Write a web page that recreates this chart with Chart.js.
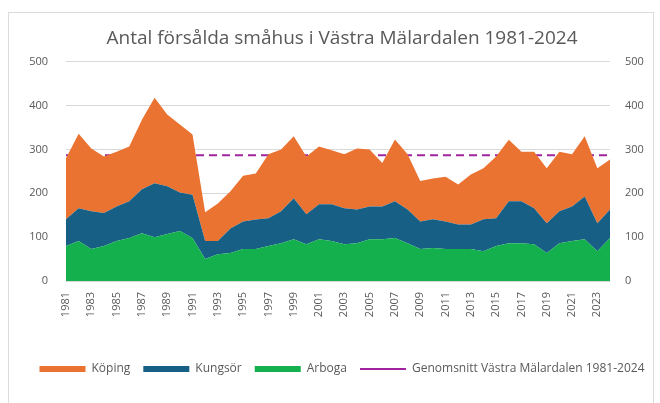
<!DOCTYPE html>
<html>
<head>
<meta charset="utf-8">
<script src="https://cdn.jsdelivr.net/npm/chart.js@4/dist/chart.umd.min.js"></script>
<style>
  html, body { margin: 0; padding: 0; background: #fff; }
  #ram { position: absolute; left: 8px; top: 12px; width: 644px; height: 400px; border: 1px solid #dcdcdc; }
  #wrap { position: absolute; left: 0; top: 0; width: 660px; height: 403px; }
</style>
</head>
<body>
<div id="ram"></div>
<div id="wrap"><canvas id="graf" width="660" height="403"></canvas></div>
<script>
const ar = ['1981','1982','1983','1984','1985','1986','1987','1988','1989','1990',
  '1991','1992','1993','1994','1995','1996','1997','1998','1999','2000',
  '2001','2002','2003','2004','2005','2006','2007','2008','2009','2010',
  '2011','2012','2013','2014','2015','2016','2017','2018','2019','2020',
  '2021','2022','2023','2024'];

const arboga = [80,91,73,80,91,98,109,100,107,114,
  98,50,61,64,73,73,80,86,95,84,
  95,91,84,86,95,95,98,86,73,75,
  73,73,73,68,80,86,86,84,64,86,
  91,95,68,98];

const kungsor = [61,75,86,75,79,84,100,123,109,88,
  99,41,30,56,63,67,63,73,94,68,
  80,84,82,77,75,75,84,77,63,66,
  63,56,56,73,63,96,96,82,68,73,
  79,98,64,65];

const koping = [139,170,143,129,125,125,159,195,164,155,
  137,66,86,85,104,105,146,141,141,132,
  132,123,123,139,130,99,141,126,92,93,
  102,91,114,116,141,140,113,129,125,136,
  119,137,125,114];

// genomsnitt för hela perioden, ritas som streckad linje
const genomsnitt = 287;
const snittLinje = ar.map(() => genomsnitt);

const legendOrdning = ['Köping', 'Kungsör', 'Arboga', 'Genomsnitt Västra Mälardalen 1981-2024'];

const grå = '#595959';
const font = "'Open Sans', 'Liberation Sans', sans-serif";

new Chart(document.getElementById('graf'), {
  type: 'line',
  data: {
    labels: ar,
    datasets: [
      { label: 'Arboga', data: arboga, backgroundColor: '#14b04e', borderWidth: 0, fill: 'origin', pointRadius: 0, pointStyle: 'rect', yAxisID: 'y' },
      { label: 'Kungsör', data: kungsor, backgroundColor: '#175f85', borderWidth: 0, fill: '-1', pointRadius: 0, pointStyle: 'rect', yAxisID: 'y' },
      { label: 'Köping', data: koping, backgroundColor: '#eb7332', borderWidth: 0, fill: '-1', pointRadius: 0, pointStyle: 'rect', yAxisID: 'y' },
      { label: 'Genomsnitt Västra Mälardalen 1981-2024', data: snittLinje, borderColor: '#a0249e', backgroundColor: '#a0249e',
        borderWidth: 2, borderDash: [8, 5], fill: false, pointRadius: 0, pointStyle: 'line', yAxisID: 'y1' }
    ]
  },
  options: {
    responsive: false,
    animation: false,
    layout: { padding: { left: 26, right: 2, top: 13, bottom: 18 } },
    scales: {
      x: {
        offset: false,
        grid: { display: false },
        border: { display: false },
        ticks: {
          autoSkip: false, minRotation: 90, maxRotation: 90, color: grå,
          font: { family: font, size: 11 },
          callback: (v, i) => i % 2 === 0 ? ar[i] : ''
        },
        afterFit: s => { s.height = 69; }
      },
      y: {
        stacked: true, min: 0, max: 500,
        ticks: { stepSize: 100, color: grå, font: { family: font, size: 11 }, padding: 18 },
        grid: { color: '#d9d9d9', drawTicks: false },
        border: { display: false },
        afterFit: s => { s.width = 40; }
      },
      y1: {
        position: 'right', min: 0, max: 500,
        ticks: { stepSize: 100, color: grå, font: { family: font, size: 11 }, padding: 7 },
        grid: { display: false },
        border: { display: false },
        afterFit: s => { s.width = 48; }
      }
    },
    plugins: {
      title: {
        display: true,
        text: 'Antal försålda småhus i Västra Mälardalen 1981-2024',
        color: grå,
        font: { family: font, size: 19, weight: 'normal' },
        padding: { top: 14, bottom: 12 }
      },
      legend: {
        position: 'bottom',
        labels: {
          usePointStyle: true, pointStyleWidth: 46, boxHeight: 6,
          color: grå, font: { family: font, size: 12 }, padding: 13,
          sort: (a, b) => legendOrdning.indexOf(a.text) - legendOrdning.indexOf(b.text)
        }
      },
      tooltip: { enabled: false }
    }
  }
});
</script>
</body>
</html>
